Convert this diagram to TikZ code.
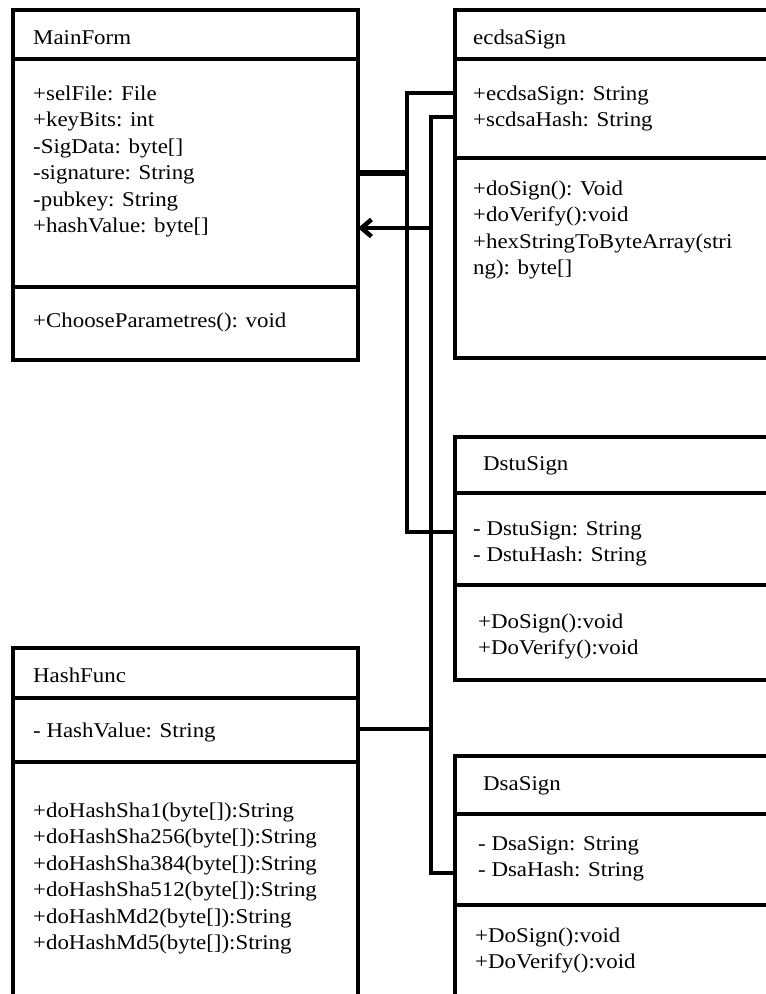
\documentclass[tikz,border=0pt]{standalone}
\usepackage{fontspec}
\setmainfont{Liberation Serif}[FakeStretch=1.09]
\usetikzlibrary{arrows.meta}
\newcommand{\umlfont}{\fontsize{21}{26.5}\selectfont}

\begin{document}
\begin{tikzpicture}[x=1pt,y=-1pt,
  classbox/.style={draw, line width=3.4pt, anchor=north west, inner sep=0pt, outer sep=0pt},
  divider/.style={line width=3.4pt},
  title/.style={anchor=base west, inner sep=0pt, font=\umlfont},
  members/.style={anchor=north west, yshift=18.55pt, inner sep=0pt, align=left, font=\umlfont},
  link/.style={line width=4.5pt},
  thicklink/.style={line width=6pt},
]
\useasboundingbox (0,0) rectangle (766,994);
\clip (0,0) rectangle (766,994);
\fill[white] (0,0) rectangle (766,994);

% class frames
\node[classbox, minimum width=345pt, minimum height=350pt] (mainform) at (13,10) {};
\node[classbox, minimum width=345pt, minimum height=348pt] (ecdsa) at (455,10) {};
\node[classbox, minimum width=345pt, minimum height=243pt] (dstu) at (455,437) {};
\node[classbox, minimum width=345pt, minimum height=260pt] (dsa) at (455,756) {};
\node[classbox, minimum width=345pt, minimum height=370pt] (hashfunc) at (13,648) {};

% compartment separators
\draw[divider] (mainform.west |- 0,59) -- (mainform.east |- 0,59);
\draw[divider] (mainform.west |- 0,287) -- (mainform.east |- 0,287);
\draw[divider] (ecdsa.west |- 0,59) -- (ecdsa.east |- 0,59);
\draw[divider] (ecdsa.west |- 0,158) -- (ecdsa.east |- 0,158);
\draw[divider] (dstu.west |- 0,493) -- (dstu.east |- 0,493);
\draw[divider] (dstu.west |- 0,585) -- (dstu.east |- 0,585);
\draw[divider] (dsa.west |- 0,814) -- (dsa.east |- 0,814);
\draw[divider] (dsa.west |- 0,905) -- (dsa.east |- 0,905);
\draw[divider] (hashfunc.west |- 0,698) -- (hashfunc.east |- 0,698);
\draw[divider] (hashfunc.west |- 0,762) -- (hashfunc.east |- 0,762);

% MainForm
\node[title] (mfT) at (33,44) {MainForm};
\node[members] (mfA) at (33,100) {\strut+selFile: File\\+keyBits: int\\-SigData: byte[]\\-signature: String\\-pubkey: String\\+hashValue: byte[]};
\node[members] (mfM) at (33,327) {\strut+ChooseParametres(): void};

% ecdsaSign
\node[title] (ecT) at (473,44) {ecdsaSign};
\node[members] (ecA) at (473,100) {\strut+ecdsaSign: String\\+scdsaHash: String};
\node[members] (ecM) at (473,195) {\strut+doSign(): Void\\+doVerify():void\\+hexStringToByteArray(stri\\ng): byte[]};

% DstuSign
\node[title] (dsT) at (483,470) {DstuSign};
\node[members] (dsA) at (473,535) {\strut- DstuSign: String\\- DstuHash: String};
\node[members] (dsM) at (478,628) {\strut+DoSign():void\\+DoVerify():void};

% DsaSign
\node[title] (daT) at (483,790) {DsaSign};
\node[members] (daA) at (478,850) {\strut- DsaSign: String\\- DsaHash: String};
\node[members] (daM) at (475,942) {\strut+DoSign():void\\+DoVerify():void};

% HashFunc
\node[title] (hfT) at (33,682) {HashFunc};
\node[members] (hfA) at (33,737) {\strut- HashValue: String};
\node[members] (hfM) at (33,817) {\strut+doHashSha1(byte[]):String\\+doHashSha256(byte[]):String\\+doHashSha384(byte[]):String\\+doHashSha512(byte[]):String\\+doHashMd2(byte[]):String\\+doHashMd5(byte[]):String};

% vertical buses
\coordinate (busA) at (407,0);
\coordinate (busB) at (431,0);

% connectors
\draw[thicklink] (mainform.east |- 0,173) -- (busA |- 0,173);
\draw[link] (ecdsa.west |- 0,93) -| (busA |- 0,532) -- (dstu.west |- 0,532);
\draw[link] (ecdsa.west |- 0,117) -| (busB |- 0,873) -- (dsa.west |- 0,873);
\draw[link, -{Straight Barb[length=10pt, width=17pt]}] (busB |- 0,228) -- (mainform.east |- 0,228);
\draw[link] (hashfunc.east |- 0,729) -- (busB |- 0,729);
\end{tikzpicture}
\end{document}
